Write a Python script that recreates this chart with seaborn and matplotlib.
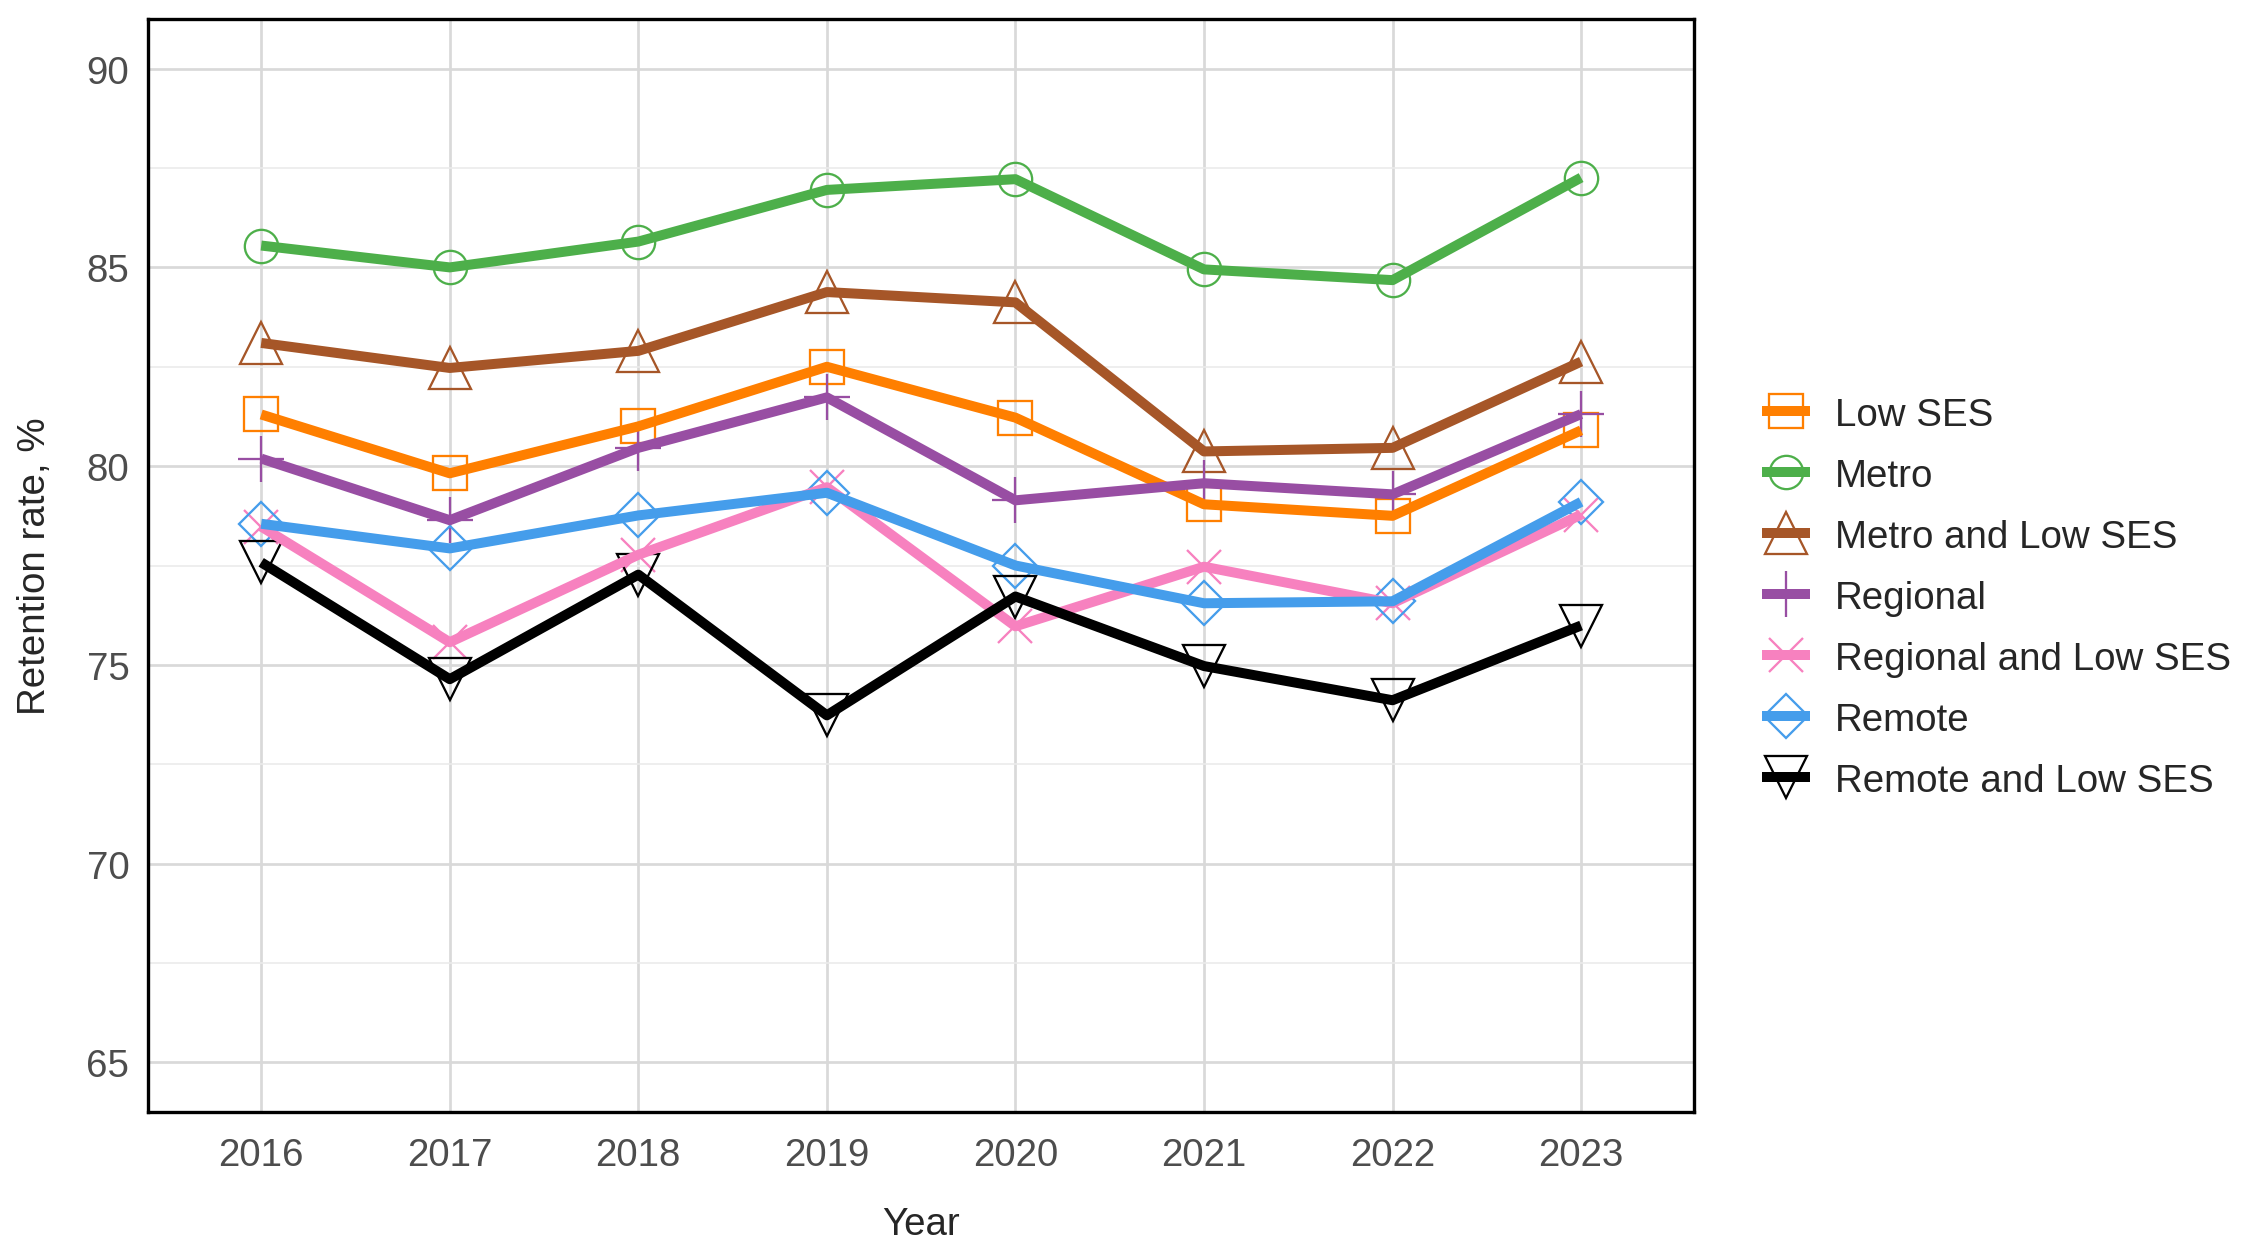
import numpy as np
import pandas as pd
import seaborn as sns
import matplotlib.pyplot as plt
from matplotlib.lines import Line2D
from matplotlib.legend_handler import HandlerTuple
from matplotlib.ticker import MultipleLocator

# values
years = ['2016', '2017', '2018', '2019', '2020', '2021', '2022', '2023']
groups = ['Low SES', 'Metro', 'Metro and Low SES', 'Regional',
          'Regional and Low SES', 'Remote', 'Remote and Low SES']

low_ses = [81.30, 79.82, 81.00, 82.50, 81.22, 79.04, 78.75, 80.90]
metro = [85.55, 85.00, 85.65, 86.95, 87.22, 84.95, 84.68, 87.26]
metro_low_ses = [83.10, 82.47, 82.90, 84.38, 84.12, 80.37, 80.46, 82.63]
regional = [80.19, 78.64, 80.46, 81.73, 79.14, 79.57, 79.29, 81.31]
regional_low_ses = [78.48, 75.57, 77.77, 79.47, 75.97, 77.47, 76.55, 78.78]
remote = [78.55, 77.93, 78.76, 79.33, 77.50, 76.55, 76.60, 79.10]
remote_low_ses = [77.58, 74.64, 77.27, 73.73, 76.72, 74.97, 74.11, 75.99]

series = [low_ses, metro, metro_low_ses, regional, regional_low_ses, remote, remote_low_ses]

colors = ['#FF7F00', '#4DAF4A', '#A65628', '#984EA3', '#F781BF', '#459DEB', '#000000']
marker_list = ['s', 'o', '^', '+', 'x', 'D', 'v']
marker_sizes = [16, 16, 20, 22.5, 16, 14.6, 20]

palette = dict(zip(groups, colors))
markers = dict(zip(groups, marker_list))
msize = dict(zip(groups, marker_sizes))

df = pd.DataFrame({
    'Year': years * len(groups),
    'Retention': [v for s in series for v in s],
    'Group': [g for g in groups for _ in years],
})

sns.set_style('white')
plt.rcParams['font.family'] = ['Liberation Sans', 'DejaVu Sans']
plt.rcParams['lines.solid_capstyle'] = 'butt'

fig, ax = plt.subplots(figsize=(15, 8.3333), dpi=150)
fig.subplots_adjust(left=0.0658, right=0.753, top=0.984, bottom=0.1096)

# hollow markers first, lines drawn over them
sns.lineplot(data=df, x='Year', y='Retention', hue='Group', hue_order=groups,
             palette=palette, marker='o', legend=False, ax=ax, zorder=2)
for line, g in zip(ax.lines, groups):
    line.set_linestyle('none')
    line.set_marker(markers[g])
    line.set_markersize(msize[g])
    line.set_markerfacecolor('none')
    line.set_markeredgecolor(palette[g])
    line.set_markeredgewidth(1.1)

sns.lineplot(data=df, x='Year', y='Retention', hue='Group', hue_order=groups,
             palette=palette, linewidth=4.8, legend=False, ax=ax, zorder=3)

ax.set_xlim(-0.6, 7.6)
ax.set_ylim(63.75, 91.25)
ax.yaxis.set_major_locator(MultipleLocator(5))
ax.yaxis.set_minor_locator(MultipleLocator(2.5))
ax.grid(which='major', color='#D9D9D9', linewidth=1.3)
ax.yaxis.grid(which='minor', color='#EBEBEB', linewidth=0.8)
ax.set_axisbelow(True)
for sp in ax.spines.values():
    sp.set_color('black')
    sp.set_linewidth(1.6)
ax.tick_params(which='both', length=0, labelsize=18.5, labelcolor='#4D4D4D')
ax.tick_params(axis='x', pad=12)
ax.tick_params(axis='y', pad=9)

ax.set_xlabel('Year', fontsize=18.5, labelpad=16)
ax.set_ylabel('Retention rate, %', fontsize=18.5, labelpad=16)

# legend keys: marker with the line drawn over it
handles = []
for g in groups:
    mk = Line2D([], [], linestyle='none', marker=markers[g], markersize=msize[g],
                markerfacecolor='none', markeredgecolor=palette[g], markeredgewidth=1.1)
    ln = Line2D([], [], color=palette[g], linewidth=4.8, solid_capstyle='butt')
    handles.append((mk, ln))

fig.legend(handles, groups, loc='center left', bbox_to_anchor=(0.783, 0.521),
           frameon=False, fontsize=18.5, handlelength=1.25, handletextpad=0.65,
           labelspacing=0.65, borderpad=0, borderaxespad=0,
           handler_map={tuple: HandlerTuple(ndivide=1)})

plt.savefig('out.png', dpi=150)
plt.close()
